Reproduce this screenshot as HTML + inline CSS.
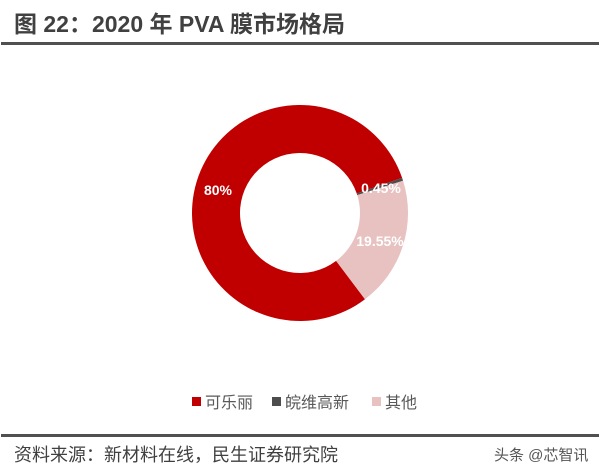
<!DOCTYPE html>
<html><head><meta charset="utf-8"><style>
body{margin:0;width:600px;height:471px;background:#fff;overflow:hidden;font-family:"Liberation Sans","Noto Sans CJK SC",sans-serif;}
</style></head><body>
<svg width="600" height="471">
<text x="14" y="32" font-size="23" font-weight="bold" fill="#404040" font-family="Liberation Sans, Noto Sans CJK SC, sans-serif">图 22：2020 年 PVA 膜市场格局</text>
<rect x="1" y="42" width="598" height="3" fill="#505050"/>
<g id="pie"></g>
<g id="legend"></g>
<rect x="1" y="434" width="598" height="3" fill="#505050"/>
<text x="14" y="461" font-size="18" fill="#404040">资料来源：新材料在线，民生证券研究院</text>
<text x="494" y="460" font-size="15" fill="#555">头条 @芯智讯</text>
</svg>
<script>
const categories=["可乐丽","皖维高新","其他"];
const values=[80,0.45,19.55];
const labels=["80%","0.45%","19.55%"];
const colors=["#C00000","#4D4D4D","#E8C1C1"];
const cx=300,cy=213,R=108,r=60,start=143;
const NS="http://www.w3.org/2000/svg";
const pie=document.getElementById('pie');
const total=values.reduce((a,b)=>a+b,0);
function pt(a,rad){const t=(a-90)*Math.PI/180;return [cx+rad*Math.cos(t),cy+rad*Math.sin(t)];}
let a=start;
const labelPos=[[218,195],[381,193],[380,246]];
values.forEach((v,i)=>{
 const sweep=v/total*360,a2=a+sweep,large=sweep>180?1:0;
 const [x1,y1]=pt(a,R),[x2,y2]=pt(a2,R),[x3,y3]=pt(a2,r),[x4,y4]=pt(a,r);
 const p=document.createElementNS(NS,'path');
 p.setAttribute('d',`M${x1},${y1}A${R},${R} 0 ${large} 1 ${x2},${y2}L${x3},${y3}A${r},${r} 0 ${large} 0 ${x4},${y4}Z`);
 p.setAttribute('fill',colors[i]);
 
 
 pie.appendChild(p);
 a=a2;
});
values.forEach((v,i)=>{
 const t=document.createElementNS(NS,'text');
 t.setAttribute('x',labelPos[i][0]);t.setAttribute('y',labelPos[i][1]);
 t.setAttribute('text-anchor','middle');t.setAttribute('font-size','14');t.setAttribute('font-weight','bold');t.setAttribute('fill','#fff');
 t.textContent=labels[i];
 
 
 pie.appendChild(t);
});
const lg=document.getElementById('legend');
const lx=[192,272,372];
categories.forEach((c,i)=>{
 const s=document.createElementNS(NS,'rect');
 s.setAttribute('x',lx[i]);s.setAttribute('y',397);s.setAttribute('width',9);s.setAttribute('height',9);s.setAttribute('fill',colors[i]);
 
 
 lg.appendChild(s);
 const t=document.createElementNS(NS,'text');
 t.setAttribute('x',lx[i]+13);t.setAttribute('y',408);t.setAttribute('font-size','16');t.setAttribute('fill','#595959');
 t.textContent=c;
 
 
 lg.appendChild(t);
});
</script>
</body></html>
